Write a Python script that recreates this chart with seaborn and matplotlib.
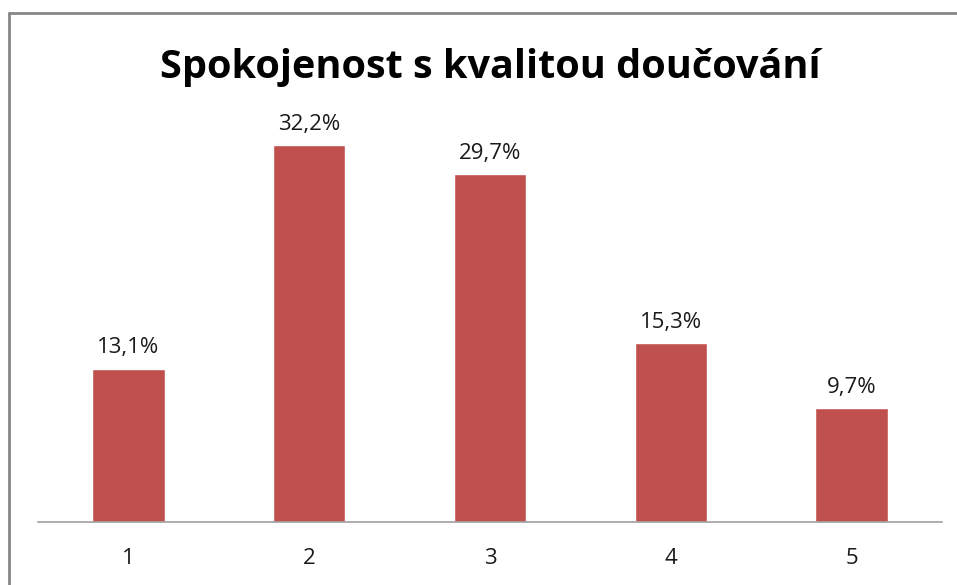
import matplotlib
matplotlib.use("Agg")
import matplotlib.pyplot as plt
import seaborn as sns
import pandas as pd

categories = ["1", "2", "3", "4", "5"]
values = [13.1, 32.2, 29.7, 15.3, 9.7]
labels = ["13,1%", "32,2%", "29,7%", "15,3%", "9,7%"]

sns.set_theme(style="white")
plt.rcParams['font.family'] = ['Open Sans', 'DejaVu Sans']

df = pd.DataFrame({"hodnoceni": categories, "podil": values})

fig = plt.figure(figsize=(9.57, 5.85), dpi=100)
W, H = 957, 585
ax = fig.add_axes([38 / W, 1 - 522 / H, (942 - 38) / W, (522 - 100) / H])

sns.barplot(data=df, x="hodnoceni", y="podil", color="#C0504D",
            saturation=1, width=0.4, ax=ax)

for i, (v, lab) in enumerate(zip(values, labels)):
    ax.text(i, v + 1.3, lab, ha="center", va="baseline", fontsize=16,
            color="#1a1a1a")

ax.set_ylim(0, 36.04)
ax.set_xlim(-0.5, 4.5)
ax.set_yticks([])
ax.set_xlabel("")
ax.set_ylabel("")
for s in ["top", "right", "left"]:
    ax.spines[s].set_visible(False)
ax.spines["bottom"].set_color("#a0a0a0")
ax.spines["bottom"].set_linewidth(1.2)
ax.tick_params(axis="x", length=0, pad=19, labelsize=16, labelcolor="#1a1a1a")

fig.text(490 / W, 1 - 78 / H, "Spokojenost s kvalitou doučování",
         ha="center", va="baseline", fontsize=28.5, fontweight="bold", color="black")

# gray frame of the chart area (only left and top edges visible)
fig.add_artist(plt.Line2D([9 / W, 9 / W], [0, 1 - 13 / H], transform=fig.transFigure,
                          color="#868686", linewidth=2))
fig.add_artist(plt.Line2D([9 / W, 1], [1 - 13 / H, 1 - 13 / H], transform=fig.transFigure,
                          color="#868686", linewidth=2))

fig.savefig("out.png", dpi=100)
